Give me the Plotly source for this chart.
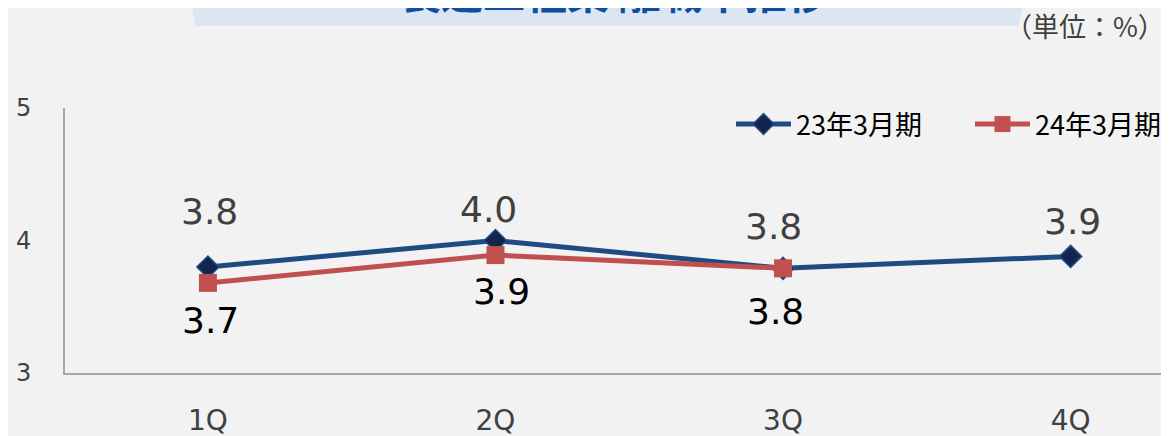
import plotly.graph_objects as go

# ---- data ----
quarters = ["1Q", "2Q", "3Q", "4Q"]
series_names = ["23年3月期", "24年3月期"]
fy23_values = [3.80, 4.00, 3.79, 3.88]
fy24_values = [3.68, 3.89, 3.79]
title_text = "製造工程業 離職率推移"
unit_text = "（単位：%）"
y_tick_values = [3, 4, 5]

# ---- label offsets (px) ----
fy23_label_shift = [(2, 56), (-7, 31), (-10, 42), (2, 35)]
fy24_label_shift = [(3, -38), (6, -36), (-8, -43)]

BG = "#f2f2f2"
BLUE = "#1f4b85"
BLUE_MK = "#13244f"
RED = "#c0504d"

OFF = 8  # page body margin
W, H = 1169, 436
ML, MR, MT, MB = 57, 0, 100, 71
PW = W - ML - MR
PH = H - MT - MB


def px(x):
    return (x - OFF - ML) / PW


def py(y):
    return 1 + (MT - (y - OFF)) / PH


fig = go.Figure()
fig.add_trace(go.Scatter(
    x=quarters, y=fy23_values, name=series_names[0], mode="lines+markers",
    line=dict(color=BLUE, width=5),
    marker=dict(symbol="diamond", size=17, color=BLUE_MK, line=dict(color=BLUE, width=1.5)),
))
fig.add_trace(go.Scatter(
    x=quarters[:len(fy24_values)], y=fy24_values, name=series_names[1], mode="lines+markers",
    line=dict(color=RED, width=5),
    marker=dict(symbol="square", size=18, color=RED, line=dict(color=RED, width=0)),
))

annotations = []
for q, v, (dx, dy) in zip(quarters, fy23_values, fy23_label_shift):
    annotations.append(dict(x=q, y=v, text=f"{v:.1f}", showarrow=False, xshift=dx, yshift=dy,
                            font=dict(family="DejaVu Sans", size=36, color="#404040")))
for q, v, (dx, dy) in zip(quarters, fy24_values, fy24_label_shift):
    annotations.append(dict(x=q, y=v, text=f"{v:.1f}", showarrow=False, xshift=dx, yshift=dy,
                            font=dict(family="DejaVu Sans", size=36, color="#000000")))

# title (cut off at the top, as in the reference)
annotations.append(dict(xref="paper", yref="paper", x=px(614), y=py(23), xanchor="center",
                        yanchor="bottom",
                        text=f"<b>{title_text}</b>", showarrow=False,
                        font=dict(family="Noto Sans CJK JP", size=42, color="#0d4ea0")))
annotations.append(dict(xref="paper", yref="paper", x=px(1085), y=py(25), xanchor="center",
                        yanchor="middle",
                        text=unit_text, showarrow=False,
                        font=dict(family="Noto Sans CJK JP", size=27, color="#404040")))

shapes = [dict(type="path", xref="paper", yref="paper", layer="below",
               path=(f"M {px(188)},{py(-20)} L {px(195)},{py(26)} L {px(1018)},{py(26)} "
                     f"L {px(1030)},{py(-20)} Z"),
               fillcolor="#dce6f2", line=dict(width=0))]

fig.update_layout(
    width=W, height=H,
    margin=dict(l=ML, r=MR, t=MT, b=MB, autoexpand=False),
    paper_bgcolor=BG, plot_bgcolor=BG,
    annotations=annotations, shapes=shapes,
    showlegend=True,
    legend=dict(orientation="h", x=px(731), y=py(100), xanchor="left", yanchor="top",
                bgcolor="rgba(0,0,0,0)", itemwidth=55, entrywidth=169, entrywidthmode="pixels",
                font=dict(family="Noto Sans CJK JP", size=27, color="#000000")),
    xaxis=dict(range=[-0.497, 3.37], showgrid=False, zeroline=False,
               showline=True, linecolor="#a6a6a6", linewidth=2,
               ticks="", ticklabelstandoff=21,
               tickfont=dict(family="DejaVu Sans", size=28, color="#404040")),
    yaxis=dict(range=[3, 5], tickvals=y_tick_values, showgrid=False, zeroline=False,
               showline=True, linecolor="#a6a6a6", linewidth=2,
               ticks="", ticklabelstandoff=27,
               tickfont=dict(family="DejaVu Sans", size=24, color="#404040")),
)

fig.write_html("out.html")
